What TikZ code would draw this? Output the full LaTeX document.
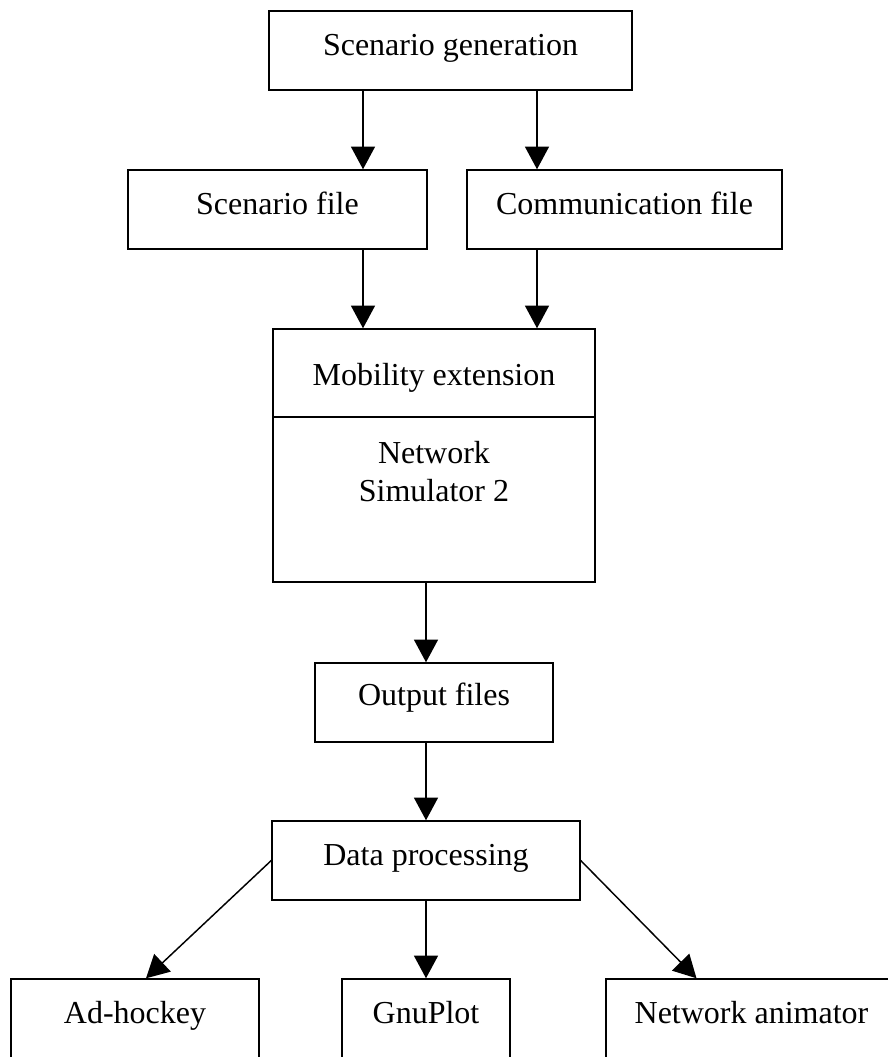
\documentclass[tikz,border=0pt]{standalone}
\usepackage{fontspec}
\setmainfont{Liberation Serif}
\usetikzlibrary{arrows.meta}

\begin{document}
\begin{tikzpicture}[x=0.75pt, y=-0.75pt,
  every node/.style={font=\fontsize{24}{28.5}\selectfont},
  box/.style={draw, line width=1.1pt, minimum height=59.25pt, inner sep=0pt, text height=17pt, text depth=10pt},
  arr/.style={draw, line width=1.1pt, -{Triangle[length=17pt, width=18pt]}}]
  \useasboundingbox (0,0) rectangle (888,1057);
  \clip (0,0) rectangle (888,1057);

  \coordinate (colA) at (363,0);
  \coordinate (colB) at (537,0);
  \coordinate (colC) at (426,0);

  \node[box, minimum width=272.25pt] (sgen)  at (450.5,50.5)  {Scenario generation};
  \node[box, minimum width=224.25pt] (sfile) at (277.5,209.5) {Scenario file};
  \node[box, minimum width=236.25pt] (cfile) at (624.5,209.5) {Communication file};

  \node[box, minimum width=241.5pt, minimum height=66pt, text height=29pt] (mob) at (434,373) {Mobility extension};
  \node[box, minimum width=241.5pt, minimum height=123.75pt,
        label={[align=center, anchor=north, yshift=-15pt]north:Network\\Simulator 2}] (nsim) at (434,499.5) {};

  \node[box, minimum width=178.5pt, text height=15pt] (out) at (434,702.5) {Output files};
  \node[box, minimum width=231pt] (dp) at (426,860.5) {Data processing};

  \node[box, minimum width=186pt]    (adh) at (135,1018.5)   {Ad-hockey};
  \node[box, minimum width=126pt]    (gnu) at (426,1018.5)   {GnuPlot};
  \node[box, minimum width=218.25pt] (nam) at (751.5,1018.5) {Network animator};

  \path[arr] (sgen.south -| colA) -- (sfile.north -| colA);
  \path[arr] (sgen.south -| colB) -- (cfile.north -| colB);
  \path[arr] (sfile.south -| colA) -- (mob.north -| colA);
  \path[arr] (cfile.south -| colB) -- (mob.north -| colB);
  \path[arr] (nsim.south -| colC) -- (out.north -| colC);
  \path[arr] (out.south -| colC) -- (dp.north -| colC);

  \path[arr] (dp.west) -- ([xshift=8.25pt]adh.north);
  \path[arr] (dp.south) -- (gnu.north);
  \path[arr] (dp.east) -- ([xshift=-41.25pt]nam.north);
\end{tikzpicture}
\end{document}
